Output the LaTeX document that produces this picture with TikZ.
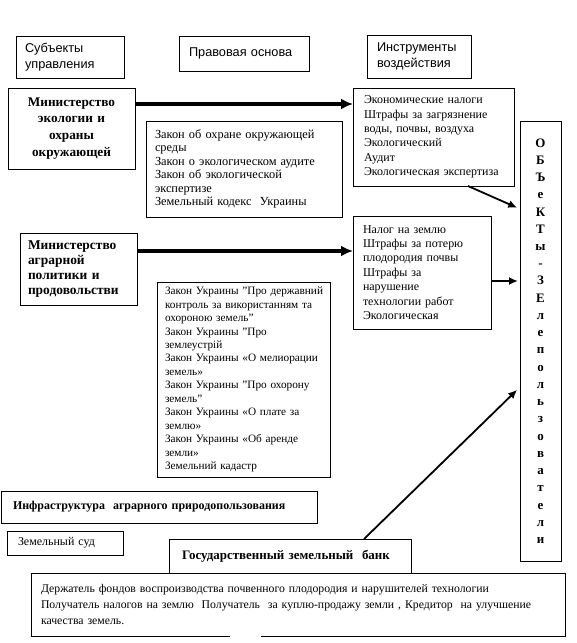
\documentclass[tikz,border=0pt]{standalone}
\usepackage{fontspec}
\setmainfont{Liberation Serif}
\newfontfamily\hdrfont{Liberation Sans}
\usetikzlibrary{arrows.meta}
\begin{document}
\begin{tikzpicture}[x=1bp,y=-1bp,
  box/.style={draw, line width=0.9bp, anchor=north west, inner ysep=0pt, outer sep=0pt, align=left},
  hdr/.style={box, font=\hdrfont\fontsize{12.8}{16.5}\selectfont},
  txt/.style={box, font=\fontsize{12}{13.5}\selectfont},
  lawtxt/.style={box, font=\fontsize{12.4}{13.5}\selectfont},
  bld/.style={box, font=\bfseries\fontsize{12.5}{15}\selectfont},
  bigarrow/.style={line width=3.5bp, -{Latex[length=12bp,width=11bp]}},
  midarrow/.style={line width=1.8bp, -{Latex[length=9bp,width=8bp]}},
]
\useasboundingbox (0,0) rectangle (577,643);

% headers
\node[hdr, minimum width=108bp, minimum height=42bp, inner xsep=9bp, text width=90bp] (subj) at (16,36) {Субъекты\\управления};
\node[hdr, minimum width=130bp, minimum height=35bp, inner xsep=10bp, text width=110bp] (prav) at (179,36) {Правовая основа};
\node[hdr, minimum width=104bp, minimum height=43bp, inner xsep=10bp, text width=84bp] (instrh) at (367,35) {Инструменты\\воздействия};

% row 1
\node[bld, align=center, font=\bfseries\fontsize{13.3}{17}\selectfont, minimum width=127bp, minimum height=81bp, inner xsep=3bp, text width=121bp] (min1) at (8,88) {Министерство\\экологии и\\охраны\\окружающей};
\node[lawtxt, minimum width=196bp, minimum height=96bp, inner xsep=9bp, text width=178bp] (law1) at (146,121) {Закон об охране окружающей\\среды\\Закон о экологическом аудите\\Закон об экологической\\экспертизе\\Земельный кодекс\ \ Украины};
\node[txt, font=\fontsize{12}{14.5}\selectfont, minimum width=161bp, minimum height=98bp, inner xsep=11bp, text width=139bp] (instr1) at (353,88) {Экономические налоги\\Штрафы за загрязнение\\воды, почвы, воздуха\\Экологический\\Аудит\\Экологическая экспертиза};

% objects column
\node[box, align=center, font=\bfseries\fontsize{13}{17.3}\selectfont, minimum width=41bp, minimum height=440bp, inner xsep=2bp, text width=37bp] (obj) at (520,121) {О\\Б\\Ъ\\е\\К\\Т\\ы\\-\\З\\Е\\л\\е\\п\\о\\л\\ь\\з\\о\\в\\а\\т\\е\\л\\и};

% row 2
\node[bld, font=\bfseries\fontsize{13.5}{15}\selectfont, minimum width=117bp, minimum height=72bp, inner xsep=8bp, text width=101bp] (min2) at (20,233) {Министерство\\аграрной\\политики и\\продовольстви};
\node[txt, font=\fontsize{12}{14.5}\selectfont, minimum width=138bp, minimum height=113bp, inner xsep=10bp, text width=118bp] (instr2) at (353,216) {Налог на землю\\Штрафы за потерю\\плодородия почвы\\Штрафы за\\нарушение\\технологии работ\\Экологическая};
\node[lawtxt, font=\fontsize{11.3}{13.5}\selectfont, minimum width=173bp, minimum height=195bp, inner xsep=8bp, text width=157bp] (law2) at (157,282) {\mbox{Закон Украины "Про державний}\\\mbox{контроль за використанням та}\\охороною земель"\\Закон Украины "Про\\землеустрій\\\mbox{Закон Украины «О мелиорации}\\земель»\\\mbox{Закон Украины "Про охорону}\\земель"\\Закон Украины «О плате за\\землю»\\Закон Украины «Об аренде\\земли»\\Земельний кадастр};

% bottom part
\node[bld, font=\bfseries\fontsize{12}{15}\selectfont, minimum width=316bp, minimum height=32bp, inner xsep=12bp, text width=292bp] (infra) at (1,491) {Инфраструктура\ \ аграрного природопользования};
\node[txt, minimum width=116bp, minimum height=24bp, inner xsep=11bp, text width=94bp] (court) at (7,531) {Земельный суд};
\node[bld, font=\bfseries\fontsize{13}{15}\selectfont, minimum width=242bp, minimum height=34bp, inner xsep=13bp, text width=216bp] (bank) at (169,539) {Государственный земельный\ \ банк};
\node[txt, draw=none, font=\fontsize{11.8}{16}\selectfont, minimum width=534bp, minimum height=63bp, inner xsep=10bp, text width=514bp] (land) at (31,573) {Держатель фондов воспроизводства почвенного плодородия и нарушителей технологии\\\mbox{Получатель налогов на землю\ \ Получатель\ \ за куплю-продажу земли , Кредитор\ \ на улучшение}\\качества земель.};
\draw[line width=0.9bp] ([xshift=199bp]land.south west) -- (land.south west) -- (land.north west) -- (land.north east) -- (land.south east) -- ([xshift=230bp]land.south west);

% connectors
\coordinate (a1) at ([yshift=-16bp]min1.north east);
\draw[bigarrow] (a1) -- (a1 -| instr1.west);
\coordinate (a2) at ([yshift=-18bp]min2.north east);
\draw[bigarrow] (a2) -- (a2 -| instr2.west);
\coordinate (a3) at ([xshift=-46bp]instr1.south east);
\coordinate (a3e) at ([yshift=-88bp]obj.north west);
\draw[midarrow, shorten >=3bp] (a3) -- (a3e);
\coordinate (a4) at ([yshift=-8.5bp]instr2.east);
\draw[midarrow, shorten >=2bp] (a4) -- (a4 -| obj.west);
\coordinate (a5) at ([xshift=195bp]bank.north west);
\coordinate (a5e) at ([yshift=-266bp]obj.north west);
\draw[midarrow, shorten >=4bp] (a5) -- (a5e);
\end{tikzpicture}
\end{document}
